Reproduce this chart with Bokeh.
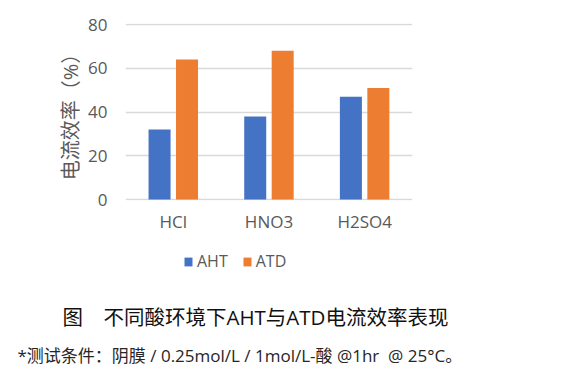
from bokeh.plotting import figure
from bokeh.layouts import column, row
from bokeh.models import ColumnDataSource, FactorRange, Range1d, Legend, LegendItem, Label
from bokeh.transform import dodge
from bokeh.embed import file_html
from bokeh.resources import INLINE

categories = ["HCl", "HNO3", "H2SO4"]
aht = [32, 38, 47]
atd = [64, 68, 51]
series_names = ["AHT", "ATD"]
series_colors = ["#4472C4", "#ED7D31"]
y_ticks = [0, 20, 40, 60, 80]
y_label = "电流效率（%）"
title_text = "图　不同酸环境下AHT与ATD电流效率表现"
footer_text = "*测试条件：阴膜 / 0.25mol/L / 1mol/L-酸 @1hr \u00a0@ 25°C。"

FONT = "Open Sans, Noto Sans CJK SC"
GREY = "#595959"

src = ColumnDataSource(dict(cat=categories, aht=aht, atd=atd))

# ---- chart ----
p = figure(width=582, height=240, x_range=FactorRange(*categories, range_padding=0),
           y_range=Range1d(-1 / 2.1875, 80 + 1 / 2.1875),
           output_backend="svg", toolbar_location=None,
           min_border_left=125, min_border_right=170, min_border_top=23, min_border_bottom=40)
p.outline_line_color = None

p.vbar(x=dodge("cat", -0.144, range=p.x_range), top="aht", width=0.23, source=src,
       fill_color=series_colors[0], line_color=None)
p.vbar(x=dodge("cat", 0.143, range=p.x_range), top="atd", width=0.23, source=src,
       fill_color=series_colors[1], line_color=None)

p.xgrid.grid_line_color = None
p.ygrid.grid_line_color = "#D9D9D9"
p.ygrid.grid_line_width = 1.5
p.yaxis.ticker = y_ticks

for ax in (p.xaxis[0], p.yaxis[0]):
    ax.axis_line_color = None
    ax.major_tick_line_color = None
    ax.minor_tick_line_color = None
    ax.major_tick_out = 0
    ax.major_tick_in = 0
    ax.minor_tick_out = 0
    ax.minor_tick_in = 0
    ax.major_label_text_color = GREY
    ax.major_label_text_font = FONT
    ax.major_label_text_font_size = "17px"

p.yaxis.major_label_standoff = 18
p.xaxis.major_label_standoff = 9
p.yaxis.axis_label = y_label
p.yaxis.axis_label_text_font = FONT
p.yaxis.axis_label_text_font_size = "20px"
p.yaxis.axis_label_text_font_style = "normal"
p.yaxis.axis_label_text_color = GREY
p.yaxis.axis_label_standoff = 1

# ---- legend + captions ----
q = figure(width=582, height=140, x_range=Range1d(0, 582), y_range=Range1d(0, 140),
           output_backend="svg", toolbar_location=None, min_border=0,
           min_border_left=0, min_border_right=0, min_border_top=0, min_border_bottom=0,
           x_axis_type=None, y_axis_type=None)
q.outline_line_color = None
q.grid.visible = False
# legend swatch carriers (kept outside the visible range)
swatch = ColumnDataSource(dict(x=[-1000], top=[-1000]))
d1 = q.vbar(x="x", top="top", width=1, source=swatch, fill_color=series_colors[0], line_color=None)
d2 = q.vbar(x="x", top="top", width=1, source=swatch, fill_color=series_colors[1], line_color=None)

legend = Legend(items=[LegendItem(label=series_names[0], renderers=[d1]),
                       LegendItem(label=series_names[1], renderers=[d2])],
                orientation="horizontal", location=(183, 108),
                glyph_width=10, glyph_height=11, label_height=15, label_standoff=4,
                spacing=14, padding=0, margin=0, border_line_color=None,
                background_fill_alpha=0, label_text_font=FONT,
                label_text_font_size="16px", label_text_color=GREY)
q.add_layout(legend, "center")

q.add_layout(Label(x=62, y=64, x_units="screen", y_units="screen", text=title_text,
                   text_font=FONT, text_font_size="20.5px", text_color="#111111",
                   text_align="left", text_baseline="middle"))
q.add_layout(Label(x=17, y=25, x_units="screen", y_units="screen", text=footer_text,
                   text_font=FONT, text_font_size="17px", text_color="#262626",
                   text_align="left", text_baseline="middle"))

layout = column(row(p), row(q), spacing=0)
open("out.html", "w").write(file_html(layout, INLINE))
